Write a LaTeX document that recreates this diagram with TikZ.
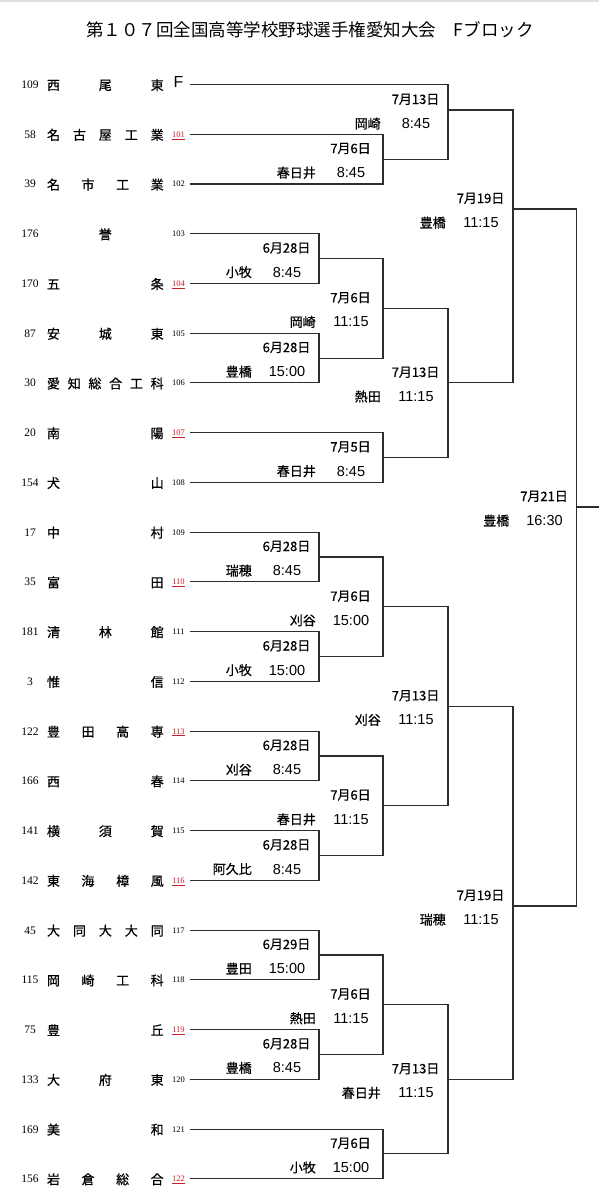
\documentclass[tikz,border=0pt]{standalone}
\usepackage{fontspec}
\setmainfont{Liberation Serif}
\newfontfamily\jp{Noto Sans CJK JP}
\newfontfamily\jpb[FakeBold=0.6]{Noto Sans CJK JP}
\newfontfamily\lsans{Liberation Sans}
\definecolor{numred}{RGB}{200,30,40}
\definecolor{linegray}{RGB}{45,45,45}
\newcommand\teamrow[5]{%
  \pgfmathsetmacro\ry{84.5+49.74*#1}
  \coordinate (s#1) at (190,\ry);
  \node[seed] (sd#1) at (30,\ry+4) {#2};
  \foreach \ch [count=\k] in {#3} {\xdef\nch{\k}}
  \foreach \ch [count=\k] in {#3} {
    \pgfmathsetmacro\xx{\nch==1 ? 105.3 : 53.5+(\k-1)*103.7/max(\nch-1,1)}
    \node[tname] (t#1c\k) at (\xx,\ry+5.5) {\ch};
  }
  \node[#5] (ln#1) at (178.5,\ry+3) {#4};
}
\newcommand\mkgame[6]{%
  \coordinate (#1) at (#2,#3);
  \node[glabel] (#1d) at (#2-32.5,#3-6) {#4};
  \node[venue] (#1v) at (#2-67,#3+18.5) {#5};
  \node[gtime] (#1t) at (#2-32,#3+18.5) {#6};
}
\begin{document}
\begin{tikzpicture}[x=1pt,y=-1pt,
  bline/.style={line width=1.1pt, draw=linegray},
  tname/.style={font=\jpb\fontsize{13}{13}\selectfont, inner sep=0pt, anchor=base},
  seed/.style={font=\fontsize{11.5}{12}\selectfont, inner sep=0pt, anchor=base},
  lnum/.style={font=\fontsize{8.5}{9}\selectfont, inner sep=0pt, anchor=base},
  lnumred/.style={lnum, text=numred},
  fmark/.style={font=\lsans\fontsize{16}{16}\selectfont, inner sep=0pt, anchor=base},
  glabel/.style={font=\jpb\fontsize{13}{13}\selectfont, inner sep=0pt, anchor=base},
  gtime/.style={font=\lsans\fontsize{14.5}{14.5}\selectfont, inner sep=0pt, anchor=base},
  venue/.style={glabel, anchor=base east},
  titlestyle/.style={font=\jp\fontsize{17.5}{18}\selectfont, inner sep=0pt, anchor=base}
]
\useasboundingbox (0,0) rectangle (599,1200);
\fill[white] (0,0) rectangle (599,1200);
\fill[black!12] (0,0) rectangle (599,1.5);

\node[titlestyle] (title) at (310,36.5) {第１０７回全国高等学校野球選手権愛知大会　Fブロック};

\teamrow{0}{109}{西,尾,東}{F}{fmark}
\teamrow{1}{58}{名,古,屋,工,業}{\underline{101}}{lnumred}
\teamrow{2}{39}{名,市,工,業}{102}{lnum}
\teamrow{3}{176}{誉}{103}{lnum}
\teamrow{4}{170}{五,条}{\underline{104}}{lnumred}
\teamrow{5}{87}{安,城,東}{105}{lnum}
\teamrow{6}{30}{愛,知,総,合,工,科}{106}{lnum}
\teamrow{7}{20}{南,陽}{\underline{107}}{lnumred}
\teamrow{8}{154}{犬,山}{108}{lnum}
\teamrow{9}{17}{中,村}{109}{lnum}
\teamrow{10}{35}{富,田}{\underline{110}}{lnumred}
\teamrow{11}{181}{清,林,館}{111}{lnum}
\teamrow{12}{3}{惟,信}{112}{lnum}
\teamrow{13}{122}{豊,田,高,専}{\underline{113}}{lnumred}
\teamrow{14}{166}{西,春}{114}{lnum}
\teamrow{15}{141}{横,須,賀}{115}{lnum}
\teamrow{16}{142}{東,海,樟,風}{\underline{116}}{lnumred}
\teamrow{17}{45}{大,同,大,大,同}{117}{lnum}
\teamrow{18}{115}{岡,崎,工,科}{118}{lnum}
\teamrow{19}{75}{豊,丘}{\underline{119}}{lnumred}
\teamrow{20}{133}{大,府,東}{120}{lnum}
\teamrow{21}{169}{美,和}{121}{lnum}
\teamrow{22}{156}{岩,倉,総,合}{\underline{122}}{lnumred}

\mkgame{G1}{383}{159.1}{7月6日}{春日井}{8:45}
\mkgame{G2}{448}{110}{7月13日}{岡崎}{8:45}
\mkgame{G3}{319}{258.6}{6月28日}{小牧}{8:45}
\mkgame{G4}{319}{358.1}{6月28日}{豊橋}{15:00}
\mkgame{G5}{383}{308.3}{7月6日}{岡崎}{11:15}
\mkgame{G6}{383}{457.5}{7月5日}{春日井}{8:45}
\mkgame{G7}{448}{382.9}{7月13日}{熱田}{11:15}
\mkgame{G8}{513}{209}{7月19日}{豊橋}{11:15}
\mkgame{G9}{319}{557}{6月28日}{瑞穂}{8:45}
\mkgame{G10}{319}{656.5}{6月28日}{小牧}{15:00}
\mkgame{G11}{383}{606.8}{7月6日}{刈谷}{15:00}
\mkgame{G12}{319}{756}{6月28日}{刈谷}{8:45}
\mkgame{G13}{319}{855.5}{6月28日}{阿久比}{8:45}
\mkgame{G14}{383}{805.7}{7月6日}{春日井}{11:15}
\mkgame{G15}{448}{706.3}{7月13日}{刈谷}{11:15}
\mkgame{G16}{319}{955}{6月29日}{豊田}{15:00}
\mkgame{G17}{319}{1054.4}{6月28日}{豊橋}{8:45}
\mkgame{G18}{383}{1004.7}{7月6日}{熱田}{11:15}
\mkgame{G19}{383}{1153.9}{7月6日}{小牧}{15:00}
\mkgame{G20}{448}{1079.3}{7月13日}{春日井}{11:15}
\mkgame{G21}{513}{906}{7月19日}{瑞穂}{11:15}
\mkgame{G22}{576.5}{507}{7月21日}{豊橋}{16:30}
\coordinate (fin) at (599,507);

\draw[bline] (s1) -| (G1) (s2) -| (G1);
\draw[bline] (s0) -| (G2) (G1) -| (G2);
\draw[bline] (s3) -| (G3) (s4) -| (G3);
\draw[bline] (s5) -| (G4) (s6) -| (G4);
\draw[bline] (G3) -| (G5) (G4) -| (G5);
\draw[bline] (s7) -| (G6) (s8) -| (G6);
\draw[bline] (G5) -| (G7) (G6) -| (G7);
\draw[bline] (G2) -| (G8) (G7) -| (G8);
\draw[bline] (s9) -| (G9) (s10) -| (G9);
\draw[bline] (s11) -| (G10) (s12) -| (G10);
\draw[bline] (G9) -| (G11) (G10) -| (G11);
\draw[bline] (s13) -| (G12) (s14) -| (G12);
\draw[bline] (s15) -| (G13) (s16) -| (G13);
\draw[bline] (G12) -| (G14) (G13) -| (G14);
\draw[bline] (G11) -| (G15) (G14) -| (G15);
\draw[bline] (s17) -| (G16) (s18) -| (G16);
\draw[bline] (s19) -| (G17) (s20) -| (G17);
\draw[bline] (G16) -| (G18) (G17) -| (G18);
\draw[bline] (s21) -| (G19) (s22) -| (G19);
\draw[bline] (G18) -| (G20) (G19) -| (G20);
\draw[bline] (G15) -| (G21) (G20) -| (G21);
\draw[bline] (G8) -| (G22) (G21) -| (G22);
\draw[bline] (G22) -- (fin);
\end{tikzpicture}
\end{document}
